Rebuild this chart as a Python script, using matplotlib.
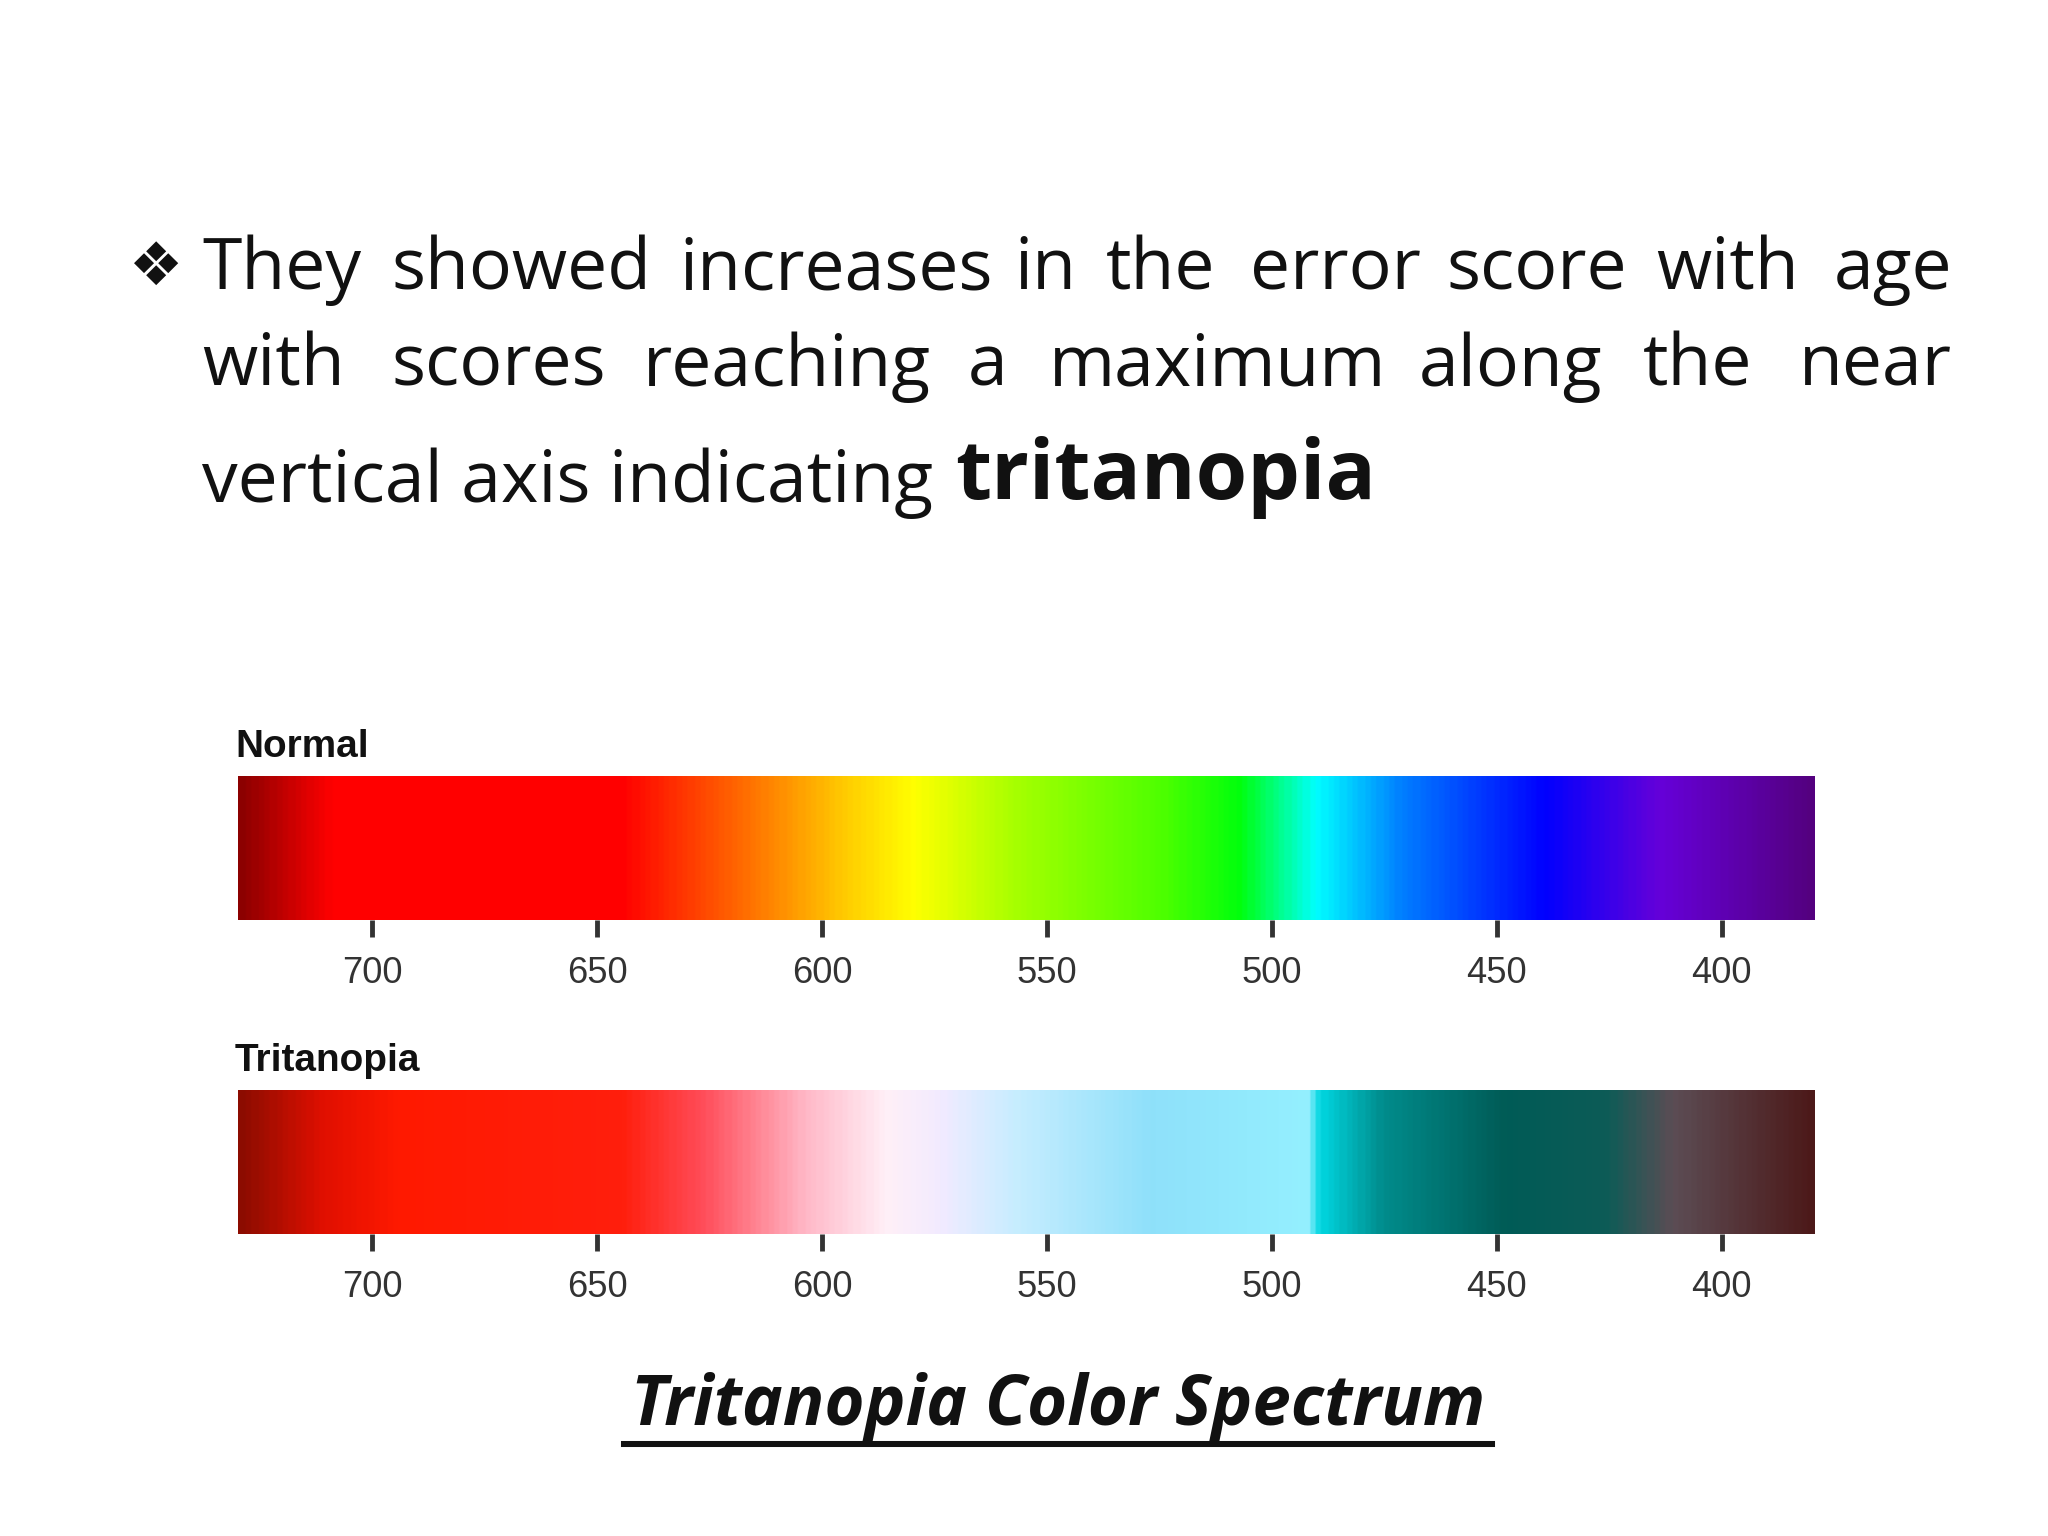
import matplotlib
matplotlib.use("Agg")
import matplotlib.pyplot as plt
import numpy as np
from matplotlib.colors import LinearSegmentedColormap

# ---- data ----
ticks = [700, 650, 600, 550, 500, 450, 400]
wl_range = (730, 379.4)
normal_wl = [730, 710, 645, 618, 595, 580, 557, 524, 507, 490, 471, 439, 413, 379.4]
normal_col = [(0.55,0,0),(1,0,0),(1,0,0),(1,0.42,0),(1,0.8,0),(1,1,0),(0.65,1,0),
              (0.3,1,0),(0,1,0.05),(0,1,1),(0,0.5,1),(0,0,1),(0.4,0,0.85),(0.33,0,0.5)]
trit_wl = [730, 712, 695, 645, 627, 604, 586, 574, 557, 527, 492, 489, 475, 448, 425, 410, 379.4]
trit_col = [(0.55,0.05,0),(0.88,0.06,0),(1,0.1,0),(1,0.12,0.05),(1,0.3,0.35),(1,0.72,0.78),
            (1,0.94,0.97),(0.95,0.92,1),(0.78,0.93,1),(0.56,0.88,0.98),(0.58,0.94,1),
            (0,0.84,0.88),(0,0.55,0.55),(0,0.36,0.34),(0.05,0.36,0.34),(0.36,0.3,0.33),(0.3,0.1,0.1)]
line1 = ["They", "showed", "increases", "in", "the", "error", "score", "with", "age"]
line1_x = [153, 297, 515, 769, 838, 947, 1096, 1255, 1390]
line2 = ["with", "scores", "reaching", "a", "maximum", "along", "the", "near"]
line2_x = [153, 297, 487, 733, 795, 1075, 1245, 1363]
line3 = "vertical axis indicating"
emph = "tritanopia"
caption = "Tritanopia Color Spectrum"

W, H = 1552, 1164
fig = plt.figure(figsize=(W/132, H/132), dpi=132)
bg = fig.add_axes([0, 0, 1, 1]); bg.set_xlim(0, W); bg.set_ylim(H, 0); bg.axis("off")
fam = ["Open Sans", "DejaVu Sans"]
fs = 29.5

bg.text(98, 203, "❖", fontsize=25, family=["DejaVu Sans"], va="center", color="#111")
for yy, words, xs in [(205, line1, line1_x), (278, line2, line2_x)]:
    for w, x in zip(words, xs):
        bg.text(x, yy, w, fontsize=fs, family=fam, va="center", color="#111")
bg.text(153, 366, line3, fontsize=fs, family=fam, va="center", color="#111")
bg.text(724, 362, emph, fontsize=34.5, family=fam, weight="bold", va="center", color="#111")

def bar(top, wls, cols, title):
    ax = fig.add_axes([180/W, 1-(top+109)/H, 1195/W, 109/H])
    pos = [(w - wl_range[0]) / (wl_range[1] - wl_range[0]) for w in wls]
    cmap = LinearSegmentedColormap.from_list("c", list(zip(pos, cols)))
    ax.imshow(np.linspace(0, 1, 600)[None, :], cmap=cmap, aspect="auto",
              extent=[wl_range[0], wl_range[1], 0, 1])
    ax.set_xlim(*wl_range); ax.set_ylim(0, 1)
    ax.set_yticks([]); ax.set_xticks(ticks)
    ax.tick_params(axis="x", direction="out", length=7, width=2, color="#333",
                   labelsize=15, labelcolor="#333", pad=8)
    for lb in ax.get_xticklabels():
        lb.set_fontfamily("Liberation Sans")
    for s in ax.spines.values(): s.set_visible(False)
    bg.text(178, top - 22, title, fontsize=16, family="Liberation Sans", weight="bold",
            va="center", color="#111")

bar(588, normal_wl, normal_col, "Normal")
bar(826, trit_wl, trit_col, "Tritanopia")

bg.text(802, 1066, caption, fontsize=28.5, family=fam, weight="bold", style="italic",
        ha="center", va="center", color="#111")
bg.plot([473, 1131], [1094, 1094], color="#111", lw=2.5)
fig.savefig("out.png", dpi=132 * 2048 / W)
